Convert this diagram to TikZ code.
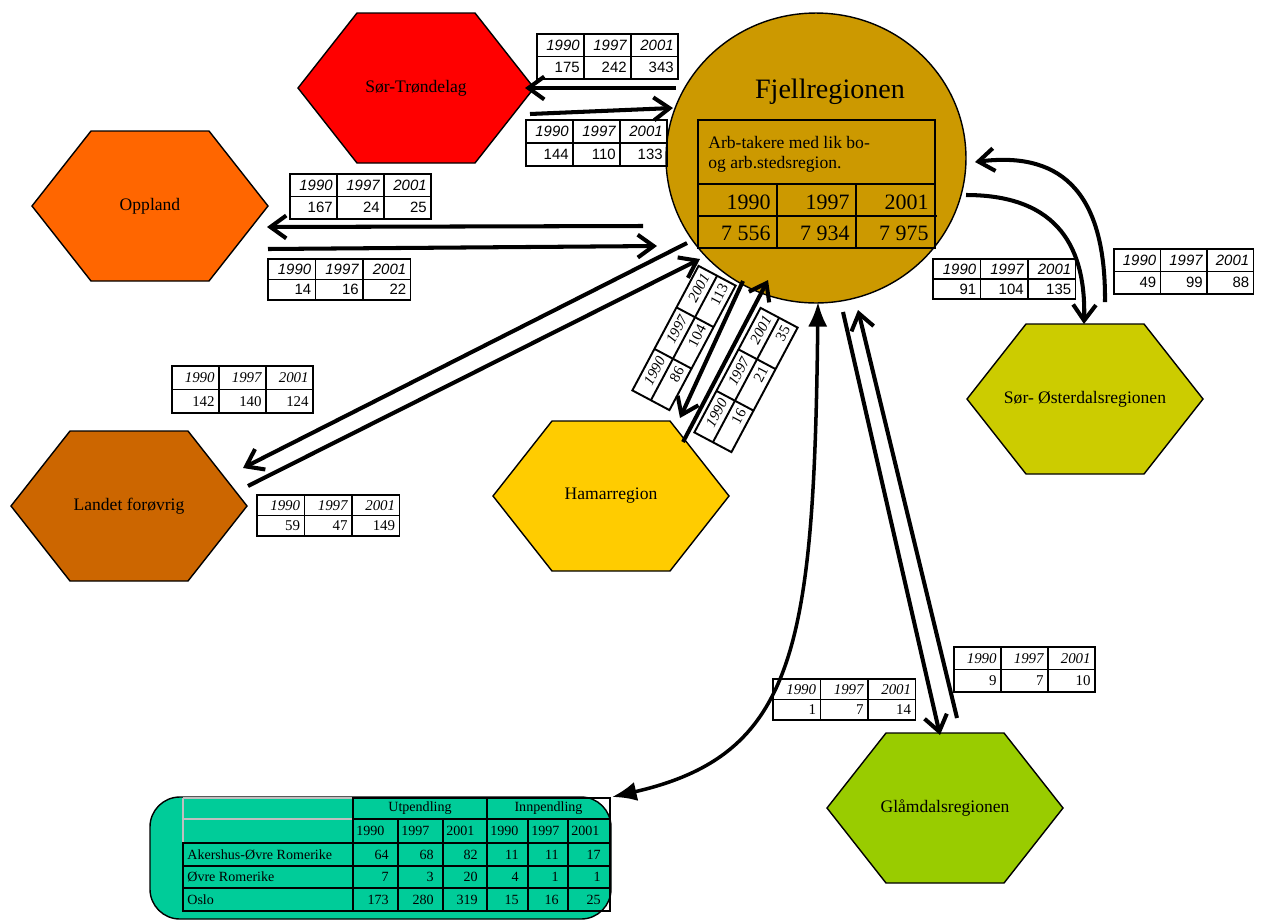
\documentclass[tikz,border=0pt]{standalone}
\usepackage{fontspec}
\setmainfont{Liberation Serif}
\newfontfamily\arialf{Liberation Sans}
\usetikzlibrary{arrows.meta,shapes.geometric}
\definecolor{cST}{HTML}{FF0000}
\definecolor{cOP}{HTML}{FF6600}
\definecolor{cLF}{HTML}{CC6600}
\definecolor{cHA}{HTML}{FFCC00}
\definecolor{cSO}{HTML}{CCCC00}
\definecolor{cGL}{HTML}{99CC00}
\definecolor{cFJ}{HTML}{CC9900}
\definecolor{cTB}{HTML}{00CC99}
\definecolor{cGrey}{HTML}{BFBFBF}
\tikzset{
  hexline/.style={draw=black,line width=0.8pt,line join=miter},
  hexlabel/.style={font=\fontsize{10}{12}\selectfont,inner sep=0pt},
  tabline/.style={draw=black,line width=1.1pt},
  tabA/.style={font=\arialf\fontsize{8.5}{10}\selectfont,inner sep=0pt},
  tabT/.style={font=\fontsize{8.5}{10}\selectfont,inner sep=0pt},
  flow/.style={line width=2.3pt,-{Straight Barb[length=9pt,width=13pt]}},
  bigflow/.style={line width=2pt,{Latex[length=14pt,width=11pt]}-{Latex[length=14pt,width=11pt]}},
  gtext/.style={font=\fontsize{8}{10}\selectfont,inner sep=0pt},
}
% hexagon: name, cx, cy, colour, label
\newcommand\hexa[5]{%
  \draw[hexline,fill=#4] ({#2-118},{#3}) -- ({#2-59},{#3-75}) -- ({#2+59},{#3-75})
     -- ({#2+118},{#3}) -- ({#2+59},{#3+75}) -- ({#2-59},{#3+75}) -- cycle;
  \node[hexlabel] (#1) at (#2,#3) {#5};}
% small table: name, x, y, col width, row height, style, v1, v2, v3
\newcommand\ytab[9]{%
  \begin{scope}[shift={(#2,#3)}]
    \draw[tabline] (0,0) rectangle ({3*#4},{2*#5});
    \draw[tabline] (0,#5) -- ({3*#4},#5);
    \draw[tabline] (#4,0) -- (#4,{2*#5});
    \draw[tabline] ({2*#4},0) -- ({2*#4},{2*#5});
    \node[#6,anchor=east] (#1-h1) at ({#4-4},{#5/2}) {\itshape 1990};
    \node[#6,anchor=east] (#1-h2) at ({2*#4-4},{#5/2}) {\itshape 1997};
    \node[#6,anchor=east] (#1-h3) at ({3*#4-4},{#5/2}) {\itshape 2001};
    \node[#6,anchor=east] (#1-v1) at ({#4-4},{1.5*#5}) {#7};
    \node[#6,anchor=east] (#1-v2) at ({2*#4-4},{1.5*#5}) {#8};
    \node[#6,anchor=east] (#1-v3) at ({3*#4-4},{1.5*#5}) {#9};
  \end{scope}}
\begin{document}
\begin{tikzpicture}[x=0.02cm,y=-0.02cm]
\useasboundingbox (0,0) rectangle (1264,920);

% ---------------- regions ----------------
\hexa{st}{416}{88}{cST}{Sør-Trøndelag}
\hexa{op}{150}{206}{cOP}{Oppland}
\hexa{lf}{129}{506}{cLF}{Landet forøvrig}
\hexa{ha}{611}{496}{cHA}{Hamarregion}
\hexa{so}{1085}{399}{cSO}{Sør- Østerdalsregionen}
\hexa{gl}{945}{808}{cGL}{Glåmdalsregionen}

% ---------------- Fjellregionen ----------------
\node[ellipse,draw=black,line width=0.8pt,fill=cFJ,minimum width=6cm,minimum height=5.8cm,inner sep=0pt] (fj) at (816,158) {};
\node[font=\fontsize{16}{18}\selectfont,inner sep=0pt] (fjt) at (830,92) {Fjellregionen};
\draw[line width=1pt] (698,120) rectangle (935,248);
\draw[line width=1pt] (698,184) -- (935,184);
\draw[line width=1pt] (698,216) -- (937,216);
\draw[line width=1pt] (777,184) -- (777,248);
\draw[line width=1pt] (856,184) -- (856,248);
\node[font=\fontsize{10}{12}\selectfont,inner sep=0pt,anchor=base west] (fja) at (708,148) {Arb-takere med lik bo-};
\node[font=\fontsize{10}{12}\selectfont,inner sep=0pt,anchor=base west] (fjb) at (708,168) {og arb.stedsregion.};
\tikzset{big/.style={font=\fontsize{12.5}{14}\selectfont,inner sep=0pt,anchor=east}}
\node[big] (fy1) at (771,202) {1990};
\node[big] (fy2) at (850,202) {1997};
\node[big] (fy3) at (929,202) {2001};
\node[big] (fv1) at (771,233) {7 556};
\node[big] (fv2) at (850,233) {7 934};
\node[big] (fv3) at (929,233) {7 975};

% ---------------- small tables ----------------
\ytab{t1}{537}{34}{47}{22.5}{tabA}{175}{242}{343}
\ytab{t2}{526}{120}{47}{23}{tabA}{144}{110}{133}
\ytab{t3}{290}{174}{47}{22.5}{tabA}{167}{24}{25}
\ytab{t4}{268}{259}{47.5}{20.5}{tabA}{14}{16}{22}
\ytab{t5}{933}{259}{47.5}{20}{tabA}{91}{104}{135}
\ytab{t6}{1114}{249}{46.5}{22.5}{tabA}{49}{99}{88}
\ytab{t7}{172}{366}{47}{23.5}{tabT}{142}{140}{124}
\ytab{t8}{257}{495}{47.5}{20.5}{tabT}{59}{47}{149}
\ytab{t9}{773}{679}{47.5}{20.5}{tabT}{1}{7}{14}
\ytab{t10}{954}{647}{47}{22.5}{tabT}{9}{7}{10}
\begin{scope}[shift={(684,338)},rotate=62,transform shape]
  \ytab{t11}{-70.5}{-21}{47}{21}{tabT}{86}{104}{113}
\end{scope}
\begin{scope}[shift={(746,380)},rotate=62,transform shape]
  \ytab{t12}{-70.5}{-21}{47}{21}{tabT}{16}{21}{35}
\end{scope}

% ---------------- connectors ----------------
\coordinate (a1s) at (676,88);  \coordinate (a1e) at (525,88);
\coordinate (a2s) at (530,114); \coordinate (a2e) at (673,108);
\coordinate (a3s) at (643,226); \coordinate (a3e) at (267,227);
\coordinate (a4s) at (268,249); \coordinate (a4e) at (657,246);
\coordinate (a5s) at (687,243); \coordinate (a5e) at (243,468);
\coordinate (a6s) at (248,486); \coordinate (a6e) at (700,259);
\coordinate (a7s) at (743,281); \coordinate (a7e) at (680,418);
\coordinate (a8s) at (683,442); \coordinate (a8e) at (768,280);
\coordinate (a9s) at (843,312); \coordinate (a9e) at (940,735);
\coordinate (a10s) at (957,718); \coordinate (a10e) at (858,310);
\coordinate (a11s) at (966,195); \coordinate (a11e) at (1084,324);
\coordinate (a12s) at (1105,302); \coordinate (a12e) at (975,162);
\coordinate (a13s) at (818,302); \coordinate (a13e) at (612,797);

\draw[flow] (a1s) -- (a1e);
\draw[flow] (a2s) -- (a2e);
\draw[flow] (a3s) -- (a3e);
\draw[flow] (a4s) -- (a4e);
\draw[flow] (a5s) -- (a5e);
\draw[flow] (a6s) -- (a6e);
\draw[flow] (a7s) -- (a7e);
\draw[flow] (a8s) -- (a8e);
\draw[flow] (a9s) -- (a9e);
\draw[flow] (a10s) -- (a10e);
\draw[flow] (a11s) .. controls (1060,195) and (1086,250) .. (a11e);
\draw[flow] (a12s) .. controls (1106,185) and (1055,152) .. (a12e);

% ---------------- bottom table ----------------
\draw[line width=0.8pt,fill=cTB,rounded corners=17pt] (150,797) rectangle (611,919);
\draw[cGrey,line width=1.2pt] (183,798) -- (353,798) (183,819) -- (353,819) (183,798) -- (183,843);
\draw[tabline] (353,798) rectangle (610,911);
\draw[tabline] (183,843) rectangle (610,911);
\draw[tabline] (353,819) -- (610,819);
\draw[tabline] (183,866) -- (610,866);
\draw[tabline] (183,888) -- (610,888);
\draw[tabline] (487,798) -- (487,911);
\foreach \c in {398,443,528,568} \draw[tabline] (\c,819) -- (\c,911);
\node[gtext] (hu) at (420,808) {Utpendling};
\node[gtext] (hi) at (548.5,808) {Innpendling};
\foreach \c/\y/\n in {356/1990/y1,401/1997/y2,446/2001/y3,490/1990/y4,531/1997/y5,571/2001/y6}
  \node[gtext,anchor=west] (\n) at (\c,831) {\y};
\node[gtext,anchor=west] (r1) at (187,854.5) {Akershus-Øvre Romerike};
\node[gtext,anchor=west] (r2) at (187,877) {Øvre Romerike};
\node[gtext,anchor=west] (r3) at (187,899.5) {Oslo};
\foreach \x/\a/\b/\cc [count=\i] in {389/64/7/173,434/68/3/280,478/82/20/319,519/11/4/15,559/11/1/16,601/17/1/25}{
  \node[gtext,anchor=east] (d1-\i) at (\x,854.5) {\a};
  \node[gtext,anchor=east] (d2-\i) at (\x,877) {\b};
  \node[gtext,anchor=east] (d3-\i) at (\x,899.5) {\cc};
}

\draw[bigflow] (a13s) .. controls (814,650) and (795,755) .. (a13e);
\end{tikzpicture}
\end{document}
